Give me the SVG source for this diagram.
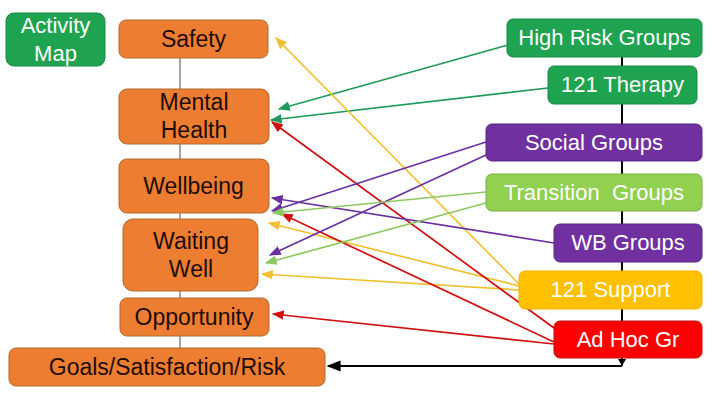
<svg xmlns="http://www.w3.org/2000/svg" width="720" height="405" viewBox="0 0 720 405">
<style>
.or{fill:#ed7d31;stroke:#b06a2e;stroke-width:1}
.lt{font-family:"Liberation Sans","Open Sans",sans-serif;font-size:23px;fill:#1e0c08;text-anchor:middle}
.rt{font-family:"Liberation Sans","Open Sans",sans-serif;font-size:22px;fill:#ffffff;text-anchor:middle}
.c{fill:none;stroke-width:1.7}
</style>
<defs>
<marker id="ag" viewBox="0 0 10 10" refX="9" refY="5" markerWidth="7" markerHeight="7" orient="auto"><path d="M0,1L10,5L0,9z" fill="#1f9a5a"/></marker>
<marker id="ay" viewBox="0 0 10 10" refX="9" refY="5" markerWidth="7" markerHeight="7" orient="auto"><path d="M0,1L10,5L0,9z" fill="#f0c030"/></marker>
<marker id="ar" viewBox="0 0 10 10" refX="9" refY="5" markerWidth="7" markerHeight="7" orient="auto"><path d="M0,1L10,5L0,9z" fill="#d01010"/></marker>
<marker id="ap" viewBox="0 0 10 10" refX="9" refY="5" markerWidth="7" markerHeight="7" orient="auto"><path d="M0,1L10,5L0,9z" fill="#6a30a0"/></marker>
<marker id="al" viewBox="0 0 10 10" refX="9" refY="5" markerWidth="7" markerHeight="7" orient="auto"><path d="M0,1L10,5L0,9z" fill="#8cc860"/></marker>
<marker id="ak" viewBox="0 0 10 10" refX="9" refY="5" markerWidth="7" markerHeight="7" orient="auto"><path d="M0,1L10,5L0,9z" fill="#000"/></marker>
</defs>

<g id="connectors">
<line x1="180" y1="58" x2="180" y2="348" stroke="#5a4458" stroke-width="1"/>
<line x1="622" y1="57" x2="622" y2="366" stroke="#000" stroke-width="2"/>
<path d="M622,366H328" fill="none" stroke="#000" stroke-width="2" marker-end="url(#ak)"/>
<path d="M618,359L626,359L622,366z" fill="#000"/>
<line class="c" x1="508" y1="45" x2="279" y2="109" stroke="#1f9a5a" marker-end="url(#ag)"/>
<line class="c" x1="548" y1="88" x2="271" y2="120" stroke="#1f9a5a" marker-end="url(#ag)"/>
<line class="c" x1="519" y1="284" x2="276" y2="38" stroke="#f0c030" marker-end="url(#ay)"/>
<line class="c" x1="519" y1="286" x2="269" y2="223" stroke="#f0c030" marker-end="url(#ay)"/>
<line class="c" x1="519" y1="290" x2="262" y2="274" stroke="#f0c030" marker-end="url(#ay)"/>
<line class="c" x1="554" y1="328" x2="272" y2="122" stroke="#d01010" marker-end="url(#ar)"/>
<line class="c" x1="554" y1="342" x2="282" y2="214" stroke="#d01010" marker-end="url(#ar)"/>
<line class="c" x1="554" y1="344" x2="273" y2="314" stroke="#d01010" marker-end="url(#ar)"/>
<line class="c" x1="486" y1="142" x2="272" y2="211" stroke="#6a30a0" marker-end="url(#ap)"/>
<line class="c" x1="486" y1="155" x2="270" y2="255" stroke="#6a30a0" marker-end="url(#ap)"/>
<line class="c" x1="554" y1="243" x2="272" y2="198" stroke="#6a30a0" marker-end="url(#ap)"/>
<line class="c" x1="486" y1="192" x2="273" y2="213" stroke="#8cc860" marker-end="url(#al)"/>
<line class="c" x1="486" y1="203" x2="266" y2="263" stroke="#8cc860" marker-end="url(#al)"/>
</g>

<g id="activity-map"><rect x="6" y="13" width="99" height="53" rx="8" fill="#1ea350" stroke="#178a42"/><text class="rt" x="55.5" y="33">Activity</text><text class="rt" x="55.5" y="61">Map</text></g>
<g id="safety"><rect class="or" x="119" y="20" width="149" height="38" rx="7"/><text class="lt" x="193.5" y="47">Safety</text></g>
<g id="mental-health"><rect class="or" x="119" y="89" width="150" height="55" rx="8"/><text class="lt" x="194" y="110">Mental</text><text class="lt" x="194" y="138">Health</text></g>
<g id="wellbeing"><rect class="or" x="119" y="159" width="150" height="54" rx="8"/><text class="lt" x="193.5" y="194">Wellbeing</text></g>
<g id="waiting-well"><rect class="or" x="123" y="219" width="135" height="72" rx="10"/><text class="lt" x="191" y="249">Waiting</text><text class="lt" x="191" y="277">Well</text></g>
<g id="opportunity"><rect class="or" x="120" y="298" width="149" height="38" rx="7"/><text class="lt" x="194" y="325">Opportunity</text></g>
<g id="goals"><rect class="or" x="9" y="348" width="316" height="38" rx="7"/><text class="lt" x="167" y="375">Goals/Satisfaction/Risk</text></g>

<g id="high-risk-groups"><rect x="507" y="19" width="195" height="38" rx="6" fill="#1ea350" stroke="#178a42"/><text class="rt" x="604.5" y="45">High Risk Groups</text></g>
<g id="therapy-121"><rect x="548" y="66" width="149" height="38" rx="6" fill="#1ea350" stroke="#178a42"/><text class="rt" x="622.5" y="92">121 Therapy</text></g>
<g id="social-groups"><rect x="486" y="124" width="216" height="37" rx="6" fill="#7030a0" stroke="#5a2485"/><text class="rt" x="594" y="150">Social Groups</text></g>
<g id="transition-groups"><rect x="486" y="174" width="216" height="37" rx="6" fill="#92d050" stroke="#78b040"/><text class="rt" x="594" y="200">Transition&#160; Groups</text></g>
<g id="wb-groups"><rect x="554" y="224" width="148" height="38" rx="6" fill="#7030a0" stroke="#5a2485"/><text class="rt" x="628" y="250">WB Groups</text></g>
<g id="support-121"><rect x="519" y="271" width="183" height="38" rx="6" fill="#ffc000" stroke="#f0b400"/><text class="rt" x="610.5" y="297">121 Support</text></g>
<g id="ad-hoc-gr"><rect x="554" y="321" width="148" height="37" rx="6" fill="#ff0000" stroke="#c01010"/><text class="rt" x="628" y="347">Ad Hoc Gr</text></g>
</svg>
